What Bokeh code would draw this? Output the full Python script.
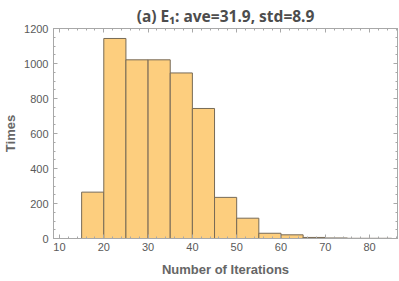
from bokeh.plotting import figure
from bokeh.models import Range1d, FixedTicker, LinearAxis, Title
from bokeh.embed import file_html
from bokeh.resources import INLINE

bin_left = [15, 20, 25, 30, 35, 40, 45, 50, 55, 60, 65, 70, 75, 80]
bin_width = 5
counts = [265, 1143, 1021, 1021, 946, 743, 235, 116, 30, 21, 6, 3, 1, 1]
x_ticks = [10, 20, 30, 40, 50, 60, 70, 80]
x_minor = list(range(8, 88, 2))
y_ticks = [0, 200, 400, 600, 800, 1000, 1200]
y_minor = list(range(0, 1250, 50))
title_text = "(a) E\u2081: ave=31.9, std=8.9"
x_label = "Number of Iterations"
y_label = "Times"

bin_right = [b + bin_width for b in bin_left]

FRAME = "#A8A8A8"
TXT = "#5A5A5A"
FONT = "Liberation Sans"
XMIN, XMAX = 8.65, 86.3

p = figure(width=399, height=281, output_backend="svg", toolbar_location=None,
           x_range=Range1d(XMIN, XMAX), y_range=Range1d(0, 1200),
           min_border_left=52, min_border_right=2, min_border_top=25, min_border_bottom=43)
p.title = Title(text=title_text, align="center", offset=-3, text_font="Noto Sans",
                text_font_size="15.5px", text_font_style="bold", text_color="#4D4D4D", standoff=4)

p.quad(left=bin_left, right=bin_right, bottom=0, top=counts,
       fill_color="#FDCE7E", line_color="#776A56", line_width=1)

p.grid.visible = False
p.outline_line_color = FRAME
p.background_fill_color = "white"
p.border_fill_color = "white"

def style(ax):
    ax.axis_line_color = FRAME
    ax.major_tick_line_color = FRAME
    ax.minor_tick_line_color = FRAME
    ax.major_tick_in = 4
    ax.major_tick_out = 0
    ax.minor_tick_in = 2
    ax.minor_tick_out = 0
    ax.major_label_text_font = FONT
    ax.major_label_text_font_size = "11px"
    ax.major_label_text_color = TXT
    ax.axis_label_text_font = FONT
    ax.axis_label_text_font_size = "13px"
    ax.axis_label_text_font_style = "bold"
    ax.axis_label_text_color = "#666666"

p.xaxis.ticker = FixedTicker(ticks=x_ticks, minor_ticks=x_minor)
p.yaxis.ticker = FixedTicker(ticks=y_ticks, minor_ticks=y_minor)
style(p.xaxis[0])
style(p.yaxis[0])
p.xaxis.axis_label = x_label
p.yaxis.axis_label = y_label
p.xaxis.major_label_standoff = 4
p.xaxis.axis_label_standoff = 8
p.yaxis.major_label_standoff = 5
p.yaxis.axis_label_standoff = 3

# frame ticks on top and right (no labels): majors and minors as separate tick sets
for side, majors, minors in (("above", x_ticks, x_minor), ("right", y_ticks, y_minor)):
    for ticks, length in ((majors, 4), (minors, 2)):
        ax = LinearAxis(ticker=FixedTicker(ticks=[], minor_ticks=ticks))
        style(ax)
        ax.minor_tick_in = length
        ax.major_label_standoff = 0
        ax.axis_label_standoff = 0
        p.add_layout(ax, side)

open("out.html", "w").write(file_html(p, INLINE))
